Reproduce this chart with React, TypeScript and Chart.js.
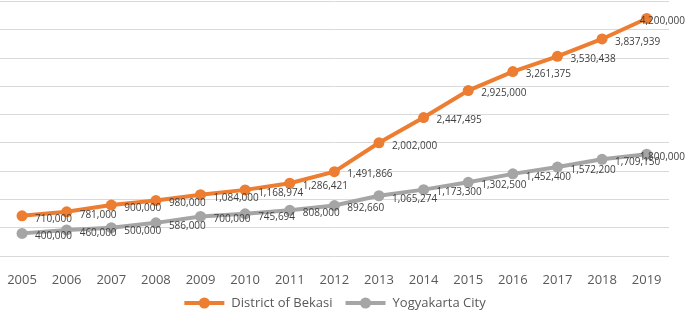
import React, { useEffect, useRef } from "react";
import { Chart, registerables } from "chart.js";

Chart.register(...registerables);

const years = ["2005", "2006", "2007", "2008", "2009", "2010", "2011", "2012", "2013", "2014", "2015", "2016", "2017", "2018", "2019"];
const bekasi = [710000, 781000, 900000, 980000, 1084000, 1168974, 1286421, 1491866, 2002000, 2447495, 2925000, 3261375, 3530438, 3837939, 4200000];
const yogyakarta = [400000, 460000, 500000, 586000, 700000, 745694, 808000, 892660, 1065274, 1173300, 1302500, 1452400, 1572200, 1709150, 1800000];
const seriesNames = ["District of Bekasi", "Yogyakarta City"];
const seriesColors = ["#ED7D31", "#A5A5A5"];

const FONT = "'Open Sans', 'Noto Sans', sans-serif";
const TEXT_COLOR = "#595959";

const dataLabelPlugin = {
  id: "dataLabels",
  afterDatasetsDraw(chart: any) {
    const ctx = chart.ctx;
    ctx.save();
    ctx.font = `10px ${FONT}`;
    ctx.fillStyle = "#404040";
    ctx.textAlign = "left";
    ctx.textBaseline = "middle";
    chart.data.datasets.forEach((ds: any, di: number) => {
      const meta = chart.getDatasetMeta(di);
      meta.data.forEach((pt: any, i: number) => {
        const txt = (ds.data[i] as number).toLocaleString("en-US");
        const w = ctx.measureText(txt).width;
        const x = Math.min(pt.x + 13, chart.width - w);
        ctx.fillText(txt, x, pt.y + 3);
      });
    });
    ctx.restore();
  },
};

const legendPlugin = {
  id: "customLegend",
  afterDraw(chart: any) {
    const ctx = chart.ctx;
    ctx.save();
    ctx.font = `13px ${FONT}`;
    const lineW = 40;
    const gapText = 7;
    const gapItems = 13;
    const widths = seriesNames.map((n) => lineW + gapText + ctx.measureText(n).width);
    const total = widths.reduce((a, b) => a + b, 0) + gapItems * (widths.length - 1);
    let x = chart.width / 2 - 3 - total / 2;
    const y = chart.height - 10;
    seriesNames.forEach((name, i) => {
      ctx.strokeStyle = seriesColors[i];
      ctx.lineWidth = 4;
      ctx.beginPath();
      ctx.moveTo(x, y);
      ctx.lineTo(x + lineW, y);
      ctx.stroke();
      ctx.fillStyle = seriesColors[i];
      ctx.beginPath();
      ctx.arc(x + lineW / 2, y, 5.5, 0, Math.PI * 2);
      ctx.fill();
      ctx.fillStyle = TEXT_COLOR;
      ctx.textAlign = "left";
      ctx.textBaseline = "middle";
      ctx.fillText(name, x + lineW + gapText, y);
      x += widths[i] + gapItems;
    });
    ctx.restore();
  },
};

export default function App() {
  const canvasRef = useRef<HTMLCanvasElement | null>(null);

  useEffect(() => {
    if (!canvasRef.current) return;
    const chart = new Chart(canvasRef.current, {
      type: "line",
      data: {
        labels: years,
        datasets: [
          {
            label: seriesNames[0],
            data: bekasi,
            borderColor: seriesColors[0],
            backgroundColor: seriesColors[0],
            borderWidth: 4,
            pointRadius: 5.5,
            pointBorderWidth: 0,
            pointBackgroundColor: seriesColors[0],
            tension: 0,
            clip: false as any,
          },
          {
            label: seriesNames[1],
            data: yogyakarta,
            borderColor: seriesColors[1],
            backgroundColor: seriesColors[1],
            borderWidth: 4,
            pointRadius: 5.5,
            pointBorderWidth: 0,
            pointBackgroundColor: seriesColors[1],
            tension: 0,
            clip: false as any,
          },
        ],
      },
      options: {
        responsive: false,
        animation: false,
        devicePixelRatio: 1,
        layout: { padding: { left: 0, right: 16, top: 0, bottom: 9.4 } },
        plugins: {
          legend: { display: false },
          tooltip: { enabled: false },
        },
        scales: {
          x: {
            type: "category",
            offset: true,
            grid: { display: false, drawTicks: false },
            border: { display: false },
            ticks: {
              color: TEXT_COLOR,
              font: { family: FONT, size: 13 },
              padding: 16,
              maxRotation: 0,
              autoSkip: false,
            },
          },
          y: {
            min: 0,
            max: 4500000,
            grid: { color: "#D9D9D9", lineWidth: 1, drawTicks: false },
            border: { display: false },
            ticks: { display: false, stepSize: 500000 },
          },
        },
      },
      plugins: [dataLabelPlugin, legendPlugin],
    });
    return () => chart.destroy();
  }, []);

  return (
    <div style={{ position: "fixed", left: 0, top: 0, width: 685, height: 313, overflow: "hidden", background: "#fff" }}>
      <canvas
        ref={canvasRef}
        width={694}
        height={317}
        style={{ display: "block", position: "absolute", left: -9, top: -4 }}
      />
    </div>
  );
}
